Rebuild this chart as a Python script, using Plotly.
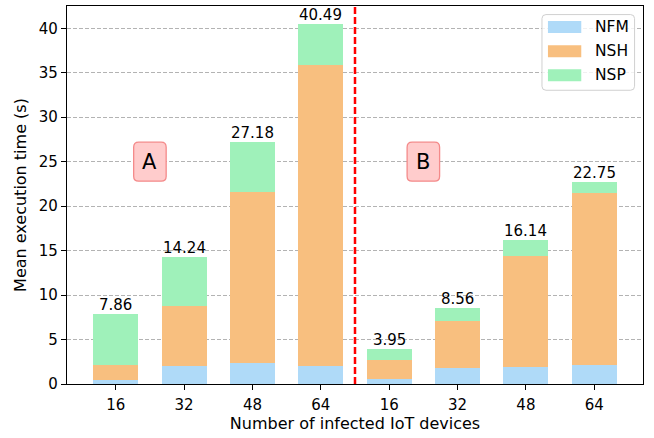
import plotly.graph_objects as go

categories = ["16", "32", "48", "64", "16", "32", "48", "64"]
nfm = [0.45, 2.06, 2.40, 2.06, 0.56, 1.84, 1.91, 2.13]
nsh = [1.68, 6.74, 19.20, 33.78, 2.17, 5.24, 12.51, 19.33]
totals = [7.86, 14.24, 27.18, 40.49, 3.95, 8.56, 16.14, 22.75]
nsp = [round(t - a - b, 2) for t, a, b in zip(totals, nfm, nsh)]
series_names = ["NFM", "NSH", "NSP"]
series_colors = ["#afdaf8", "#f8bf7f", "#9ff1ba"]
group_labels = ["A", "B"]
group_label_x = [0.5, 4.5]
group_label_y = 25
divider_x = 3.5

FONT = "DejaVu Sans"
xs = list(range(len(categories)))
bw = 0.66

fig = go.Figure()
for name, vals, col in zip(series_names, [nfm, nsh, nsp], series_colors):
    fig.add_trace(go.Bar(x=xs, y=vals, name=name, width=bw,
                         marker=dict(color=col, line=dict(width=0)),
                         showlegend=False))

annotations = []
for x, t in zip(xs, totals):
    annotations.append(dict(x=x, y=t, text=f"{t:.2f}", showarrow=False,
                            yanchor="bottom", xanchor="center", yshift=-2,
                            font=dict(family=FONT, size=15, color="black")))

shapes = []
shapes.append(dict(type="line", xref="x", yref="paper", x0=divider_x, x1=divider_x,
                   y0=0, y1=1, line=dict(color="red", width=2.5, dash="7px,3px"),
                   layer="above"))

def rrect(w, h, r):
    x0, x1, y0, y1 = -w/2, w/2, -h/2, h/2
    return (f"M{x0+r},{y0} L{x1-r},{y0} Q{x1},{y0} {x1},{y0+r} "
            f"L{x1},{y1-r} Q{x1},{y1} {x1-r},{y1} L{x0+r},{y1} "
            f"Q{x0},{y1} {x0},{y1-r} L{x0},{y0+r} Q{x0},{y0} {x0+r},{y0} Z")

for lab, gx in zip(group_labels, group_label_x):
    shapes.append(dict(type="path", xref="x", yref="y", xsizemode="pixel", ysizemode="pixel",
                       xanchor=gx, yanchor=group_label_y, path=rrect(32.5, 39, 5),
                       fillcolor="#ffcccc", line=dict(color="#f48a8a", width=1.3),
                       layer="above"))
    annotations.append(dict(x=gx, y=group_label_y, text=lab, showarrow=False,
                            xanchor="center", yanchor="middle",
                            font=dict(family=FONT, size=21, color="black")))

L, T, R, B = 67, 5.7, 642.7, 384
W, H = R - L, B - T
def px(x):
    return (x - L) / W
def py(y):
    return (B - y) / H

shapes.append(dict(type="path", xref="paper", yref="paper", xsizemode="pixel", ysizemode="pixel",
                   xanchor=px((541.7 + 634.3) / 2), yanchor=py((14.3 + 90) / 2),
                   path=rrect(634.3 - 541.7, 90 - 14.3, 4),
                   fillcolor="rgba(255,255,255,0.8)", line=dict(color="#d0d0d0", width=1),
                   layer="above"))
patch_y = [26.7, 51, 75]
for name, col, cy in zip(series_names, series_colors, patch_y):
    shapes.append(dict(type="rect", xref="paper", yref="paper",
                       x0=px(547.7), x1=px(581), y0=py(cy + 6), y1=py(cy - 6),
                       fillcolor=col, line=dict(width=0), layer="above"))
    annotations.append(dict(xref="paper", yref="paper", x=px(592.5), y=py(cy), text=name,
                            showarrow=False, xanchor="left", yanchor="middle",
                            font=dict(family=FONT, size=15.5, color="black")))

fig.update_layout(
    width=654, height=438,
    margin=dict(l=L, r=654 - R, t=T, b=438 - B),
    paper_bgcolor="white", plot_bgcolor="white",
    barmode="stack", bargap=0,
    font=dict(family=FONT, size=15, color="black"),
    shapes=shapes, annotations=annotations,
    xaxis=dict(range=[-bw/2 - 0.05 * (7 + bw), 7 + bw/2 + 0.05 * (7 + bw)],
               tickvals=xs, ticktext=categories, automargin=False,
               showline=True, mirror=True, linecolor="black", linewidth=1.3,
               ticks="outside", ticklen=5, tickwidth=1.3, tickcolor="black",
               ticklabelstandoff=2,
               showgrid=False, zeroline=False,
               tickfont=dict(family=FONT, size=15),
               title=dict(text="Number of infected IoT devices", font=dict(family=FONT, size=16), standoff=4)),
    yaxis=dict(range=[0, 42.51], tickvals=[0, 5, 10, 15, 20, 25, 30, 35, 40], automargin=False,
               showline=True, mirror=True, linecolor="black", linewidth=1.3,
               ticks="outside", ticklen=5, tickwidth=1.3, tickcolor="black",
               showgrid=True, gridcolor="#b3b3b3", gridwidth=1, griddash="4px,2px",
               zeroline=False, tickfont=dict(family=FONT, size=15),
               title=dict(text="Mean execution time (s)", font=dict(family=FONT, size=16), standoff=8)),
)

fig.write_html("out.html", config={"displayModeBar": False},
               post_script="document.body.style.margin='0';")
